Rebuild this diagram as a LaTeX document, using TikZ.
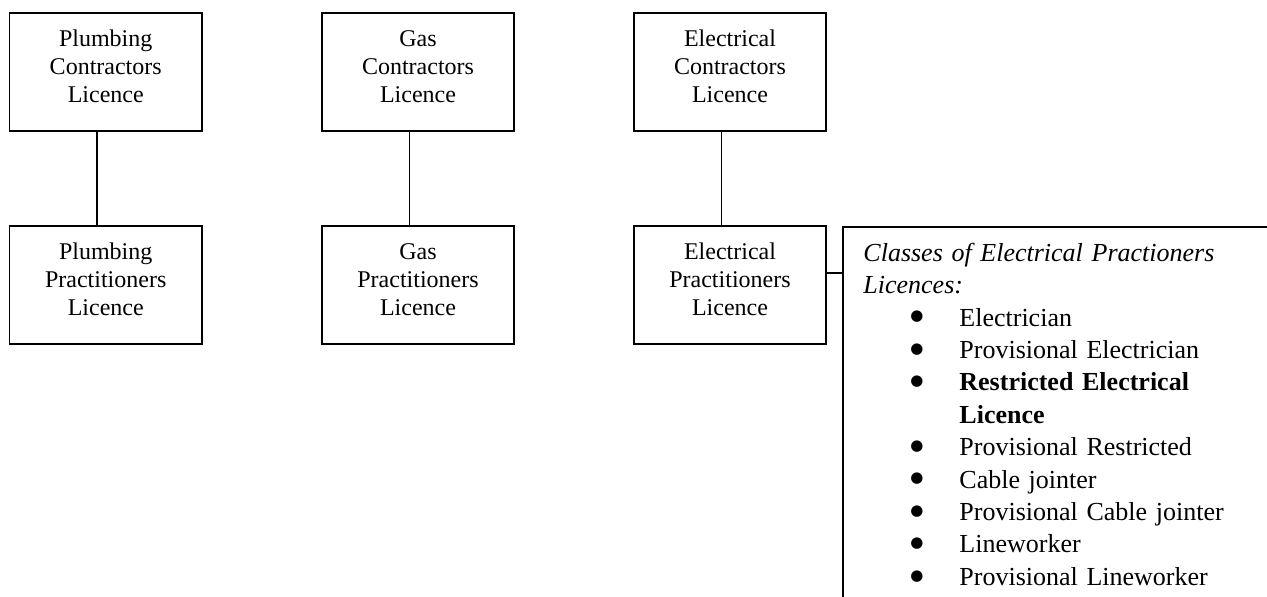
\documentclass[tikz,border=0pt]{standalone}
\usepackage{fontspec}
\setmainfont{Liberation Serif}
\newfontfamily\dotfont{DejaVu Sans}
\usepackage{enumitem}
\newcommand{\licstrut}{\rule[-6pt]{0pt}{15pt}}
\newcommand{\lic}[2]{\licstrut #1\\#2\\Licence\licstrut}
\newcommand{\bigdot}{\raisebox{2.6pt}{\dotfont\fontsize{7.5}{8}\selectfont ●}}

\begin{document}
\begin{tikzpicture}[
    lic/.style={draw,line width=0.9pt,minimum width=3.383cm,minimum height=2.074cm,align=center,font=\fontsize{12}{14}\selectfont},
    classlist/.style={anchor=north west,text width=10cm,inner xsep=10.15pt,inner ysep=5.66pt,align=left,font=\fontsize{13}{16.2}\selectfont},
    wire/.style={line width=0.9pt}]
    \useasboundingbox (0,0) rectangle (22.265,-10.491);
    \clip (0,0) rectangle (22.265,-10.491);
    % contractors
    \node[lic] (pc) at (1.858,-1.265) {\lic{Plumbing}{Contractors}};
    \node[lic] (gc) at (7.346,-1.265) {\lic{Gas}{Contractors}};
    \node[lic] (ec) at (12.828,-1.265) {\lic{Electrical}{Contractors}};
    % practitioners
    \node[lic] (pp) at (1.858,-5.008) {\lic{Plumbing}{Practitioners}};
    \node[lic] (gp) at (7.346,-5.008) {\lic{Gas}{Practitioners}};
    \node[lic] (ep) at (12.828,-5.008) {\lic{Electrical}{Practitioners}};
    \draw[wire] ([xshift=-0.15cm]pc.south)--([xshift=-0.15cm]pp.north);
    \draw[wire] ([xshift=-0.15cm]gc.south)--([xshift=-0.15cm]gp.north);
    \draw[wire] ([xshift=-0.15cm]ec.south)--([xshift=-0.15cm]ep.north);
    % classes
    \node[classlist] (cls) at (14.809,-3.989) {\strut\textit{Classes of Electrical Practioners}\\
        \textit{Licences:}
        \begin{itemize}[nosep,leftmargin=48pt,labelsep=18pt,label=\bigdot]
            \item Electrician
            \item Provisional Electrician
            \item \textbf{Restricted Electrical\\Licence}
            \item Provisional Restricted
            \item Cable jointer
            \item Provisional Cable jointer
            \item Lineworker
            \item Provisional Lineworker
        \end{itemize}};
    \draw[wire] (cls.north east)--(cls.north west)--(cls.west |- 0,-10.6);
    \draw[wire] ([yshift=0.211cm]ep.east)--([yshift=0.211cm]ep.east -| cls.west);
\end{tikzpicture}
\end{document}
